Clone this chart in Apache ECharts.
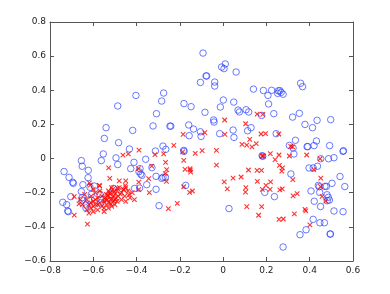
<!DOCTYPE html>
<html><head><meta charset="utf-8">
<script src="https://cdn.jsdelivr.net/npm/echarts@6/dist/echarts.min.js"></script>
<style>html,body{margin:0;padding:0;background:#fff}#c{width:390px;height:294px}</style>
</head><body><div id="c"></div>
<script>
const xTicks = [-0.8, -0.6, -0.4, -0.2, 0, 0.2, 0.4, 0.6];
const yTicks = [-0.6, -0.4, -0.2, 0, 0.2, 0.4, 0.6, 0.8];

const circlePoints = [
[-0.403,0.370],[-0.275,0.384],[-0.284,0.337],[-0.487,0.308],[-0.181,0.322],[-0.148,0.304],[-0.308,0.263],[-0.541,0.181],[-0.324,0.191],[-0.418,0.165],[-0.246,0.190],[-0.242,0.190],[-0.159,0.197],[-0.137,0.173],[-0.549,0.118],[-0.483,0.093],[-0.157,0.134],[-0.433,0.056],[-0.313,0.044],[-0.278,0.073],[-0.265,0.054],[-0.182,0.048],
[-0.093,0.618],[-0.007,0.536],[0.004,0.527],[0.010,0.554],[0.060,0.507],[-0.079,0.484],[-0.076,0.484],[-0.105,0.446],[-0.039,0.448],[-0.039,0.425],[0.140,0.407],[0.186,0.399],[0.207,0.370],[0.224,0.400],[0.252,0.382],[0.262,0.398],[0.268,0.388],[0.255,0.397],[0.277,0.377],[0.358,0.441],[0.367,0.421],[0.001,0.343],[0.049,0.331],[-0.013,0.302],[0.210,0.320],[0.069,0.284],[0.075,0.273],[0.106,0.286],[0.118,0.273],[-0.084,0.271],[-0.044,0.226],[-0.042,0.214],[0.178,0.253],[0.234,0.263],[0.321,0.243],[0.352,0.265],[0.434,0.224],[0.497,0.228],[0.378,0.200],[0.413,0.181],[-0.105,0.157],[-0.102,0.130],[-0.016,0.146],[0.046,0.167],[0.050,0.124],[0.113,0.163],[0.129,0.181],[0.245,0.146],[0.334,0.107],[0.431,0.103],[0.306,0.077],[0.323,0.062],[0.388,0.070],[0.391,0.070],[0.420,0.076],[0.492,0.076],[0.556,0.046],
[-0.655,-0.012],[-0.651,-0.045],[-0.563,-0.012],[-0.554,0.027],[-0.495,0.004],[-0.487,-0.035],[-0.735,-0.076],[-0.712,-0.110],[-0.695,-0.139],[-0.692,-0.145],[-0.623,-0.069],[-0.624,-0.112],[-0.648,-0.153],[-0.595,-0.161],[-0.507,-0.175],[-0.655,-0.193],[-0.651,-0.229],[-0.615,-0.168],[-0.609,-0.209],[-0.621,-0.243],[-0.652,-0.243],[-0.704,-0.223],[-0.634,-0.289],[-0.741,-0.256],[-0.723,-0.270],[-0.718,-0.307],[-0.715,-0.311],[-0.633,-0.271],[-0.567,-0.260],[-0.427,-0.059],[-0.412,-0.022],[-0.384,-0.059],[-0.358,-0.004],[-0.386,-0.173],[-0.409,-0.175],[-0.389,-0.077],[-0.381,-0.091],[-0.375,-0.098],[-0.329,-0.053],[-0.310,-0.104],[-0.284,-0.116],[-0.278,-0.110],[-0.267,-0.108],[-0.310,-0.180],[-0.296,-0.276],[-0.181,0.042],[-0.173,-0.157],[-0.353,-0.153],[-0.566,-0.238],[-0.569,-0.209],
[0.180,0.017],[0.183,0.013],[0.327,0.027],[0.554,0.042],[0.512,0.005],[0.451,-0.001],[0.487,-0.001],[0.397,-0.055],[0.416,-0.055],[0.436,-0.045],[0.313,-0.090],[0.540,-0.105],[0.562,-0.164],[0.503,-0.145],[0.440,-0.157],[0.444,-0.165],[0.470,-0.163],[0.477,-0.163],[0.406,-0.190],[0.446,-0.198],[0.480,-0.212],[0.486,-0.227],[0.481,-0.247],[0.491,-0.243],[0.421,-0.250],[0.450,-0.281],[0.512,-0.307],[0.554,-0.311],[0.192,-0.198],[0.237,-0.223],[0.027,-0.293],[0.416,-0.356],[0.447,-0.376],[0.468,-0.376],[0.383,-0.417],[0.355,-0.446],[0.494,-0.442],[0.496,-0.442],[0.277,-0.518]
];

const crossPoints = [
[-0.185,0.142],[-0.228,0.077],[-0.389,0.050],
[0.007,0.226],[0.157,0.261],[0.183,0.259],[0.104,0.204],[-0.085,0.152],[0.008,0.142],[0.175,0.144],[0.196,0.146],[0.257,0.144],[0.123,0.112],[0.087,0.083],[0.109,0.079],[0.133,0.068],[0.153,0.087],[0.312,0.072],[0.321,0.068],[-0.031,0.048],
[-0.688,-0.223],[-0.666,-0.266],[-0.688,-0.331],[-0.627,-0.384],[-0.618,-0.143],[-0.614,-0.155],[-0.572,-0.157],[-0.529,-0.055],[-0.524,-0.116],[-0.463,0.020],[-0.438,0.027],[-0.392,-0.059],[-0.330,-0.044],[-0.315,0.023],[-0.275,0.027],[-0.266,-0.022],[-0.261,-0.065],[-0.267,-0.088],[-0.262,-0.133],[-0.344,-0.118],[-0.341,-0.200],[-0.390,-0.182],[-0.435,-0.212],[-0.450,-0.251],[-0.212,-0.262],[-0.253,-0.293],[-0.182,-0.010],[-0.176,-0.063],[-0.150,-0.079],[-0.155,-0.198],[-0.182,-0.165],[-0.480,-0.130],[-0.489,-0.173],[-0.475,-0.208],[-0.452,-0.159],[-0.450,-0.130],[-0.460,-0.184],[-0.390,-0.138],[-0.187,0.039],
[-0.64,-0.21],[-0.63,-0.24],[-0.62,-0.27],[-0.61,-0.22],[-0.61,-0.29],[-0.60,-0.25],[-0.60,-0.31],[-0.59,-0.20],[-0.59,-0.27],[-0.58,-0.23],[-0.58,-0.30],[-0.57,-0.26],[-0.57,-0.19],[-0.56,-0.22],[-0.56,-0.28],[-0.55,-0.25],[-0.55,-0.29],[-0.54,-0.21],[-0.54,-0.27],[-0.535,-0.24],[-0.53,-0.19],[-0.53,-0.22],[-0.525,-0.26],[-0.52,-0.20],[-0.52,-0.24],[-0.515,-0.28],[-0.51,-0.22],[-0.51,-0.18],[-0.505,-0.25],[-0.50,-0.21],[-0.50,-0.27],[-0.495,-0.23],[-0.49,-0.19],[-0.49,-0.25],[-0.485,-0.22],[-0.48,-0.17],[-0.47,-0.20],[-0.47,-0.24],[-0.46,-0.18],[-0.455,-0.22],[-0.45,-0.17],[-0.44,-0.19],[-0.66,-0.24],[-0.65,-0.27],[-0.63,-0.30],[-0.62,-0.32],[-0.55,-0.31],[-0.53,-0.29],[-0.57,-0.16],[-0.515,-0.17],[-0.60,-0.18],[-0.43,-0.23],[-0.42,-0.20],[-0.41,-0.24],[-0.58,-0.27],[-0.54,-0.245],
[-0.525,-0.205],[-0.515,-0.235],[-0.505,-0.195],[-0.535,-0.215],[-0.545,-0.23],[-0.50,-0.24],[-0.52,-0.265],[-0.60,-0.28],[-0.59,-0.24],[-0.61,-0.26],
[-0.129,0.031],[-0.097,0.046],[0.180,0.015],[0.186,0.015],[0.218,0.029],[0.240,-0.006],[0.260,-0.040],[0.258,0.021],[0.306,0.015],[0.386,0.021],[0.419,-0.065],[0.448,-0.001],[0.451,-0.115],[0.450,-0.164],[0.457,-0.221],[0.474,-0.249],[0.322,-0.123],[0.323,-0.219],[0.342,-0.205],[0.329,-0.324],[0.378,-0.297],[0.382,-0.307],[0.401,-0.388],[-0.153,-0.059],[-0.152,-0.067],[-0.031,-0.038],[0.005,-0.136],[0.046,-0.114],[0.083,-0.108],[0.117,-0.067],[0.157,-0.069],[0.177,-0.069],[0.158,-0.134],[0.219,-0.136],[0.198,-0.157],[0.181,-0.180],[0.217,-0.180],[0.274,-0.055],[0.271,-0.074],[0.262,-0.184],[0.273,-0.178],[0.105,-0.170],[0.019,-0.178],[0.103,-0.196],[-0.142,-0.190],[0.109,-0.282],[0.178,-0.282],[0.164,-0.332],[0.258,-0.356],[0.278,-0.354]
];

function fmt(v){
  const r = Math.round(v*10)/10;
  if (r === 0) return '0';
  return (r < 0 ? '\u2212' : '') + Math.abs(r).toFixed(1);
}
const axisLineStyle = {color:'#555', width:1};
const labelStyle = {color:'#222', fontSize:9, fontFamily:'DejaVu Sans, sans-serif'};
function xAx(pos, showLabel){
  return {type:'value', position:pos, min:xTicks[0], max:xTicks[xTicks.length-1], interval:0.2,
    axisLine:{show:true, onZero:false, lineStyle:axisLineStyle},
    axisTick:{show:true, inside:true, length:4, lineStyle:axisLineStyle},
    axisLabel:{show:showLabel, formatter:fmt, margin:5, ...labelStyle},
    splitLine:{show:false}};
}
function yAx(pos, showLabel){
  return {type:'value', position:pos, min:yTicks[0], max:yTicks[yTicks.length-1], interval:0.2,
    axisLine:{show:true, onZero:false, lineStyle:axisLineStyle},
    axisTick:{show:true, inside:true, length:4, lineStyle:axisLineStyle},
    axisLabel:{show:showLabel, formatter:fmt, margin:4, ...labelStyle},
    splitLine:{show:false}};
}
const chart = echarts.init(document.getElementById('c'), null, {renderer:'canvas'});
chart.setOption({
  animation:false,
  grid:{left:50, right:37, top:22, bottom:33, containLabel:false},
  xAxis:[xAx('bottom', true), xAx('top', false)],
  yAxis:[yAx('left', true), yAx('right', false)],
  series:[
    {type:'scatter', xAxisIndex:0, yAxisIndex:0, data:circlePoints, symbol:'circle', symbolSize:6.5,
     itemStyle:{color:'rgba(0,0,0,0)', borderColor:'#2f45ff', borderWidth:0.9}},
    {type:'scatter', xAxisIndex:0, yAxisIndex:0, data:crossPoints, symbol:'path://M0,0L10,10M10,0L0,10', symbolSize:4.5,
     itemStyle:{color:'none', borderColor:'#ff0000', borderWidth:1.1}}
  ]
});
</script></body></html>
